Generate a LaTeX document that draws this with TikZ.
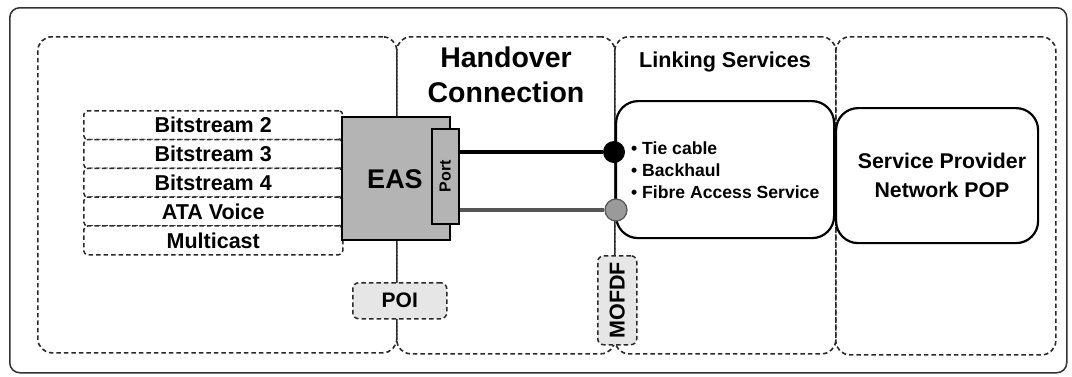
\documentclass[tikz,border=0pt]{standalone}
\usepackage{fontspec}
\setmainfont{Liberation Sans}
\definecolor{dline}{HTML}{2A2A2A}
\definecolor{easgray}{HTML}{B4B4B4}
\definecolor{lightfill}{HTML}{E6E6E6}
\definecolor{midgray}{HTML}{9A9A9A}
\definecolor{darkgray}{HTML}{555555}
\newcommand\fsz[2]{\fontsize{#1}{#2}\selectfont\bfseries}
\tikzset{
  boxnw/.style={rectangle, inner sep=0pt, anchor=north west},
  region/.style={boxnw, draw=dline, line width=1.6pt, dash pattern=on 4.5pt off 3pt, rounded corners=14pt},
  rowbox/.style={boxnw, draw=dline, fill=white, line width=1.5pt, dash pattern=on 4.5pt off 3pt, rounded corners=4pt,
    minimum width=259pt, minimum height=28.8pt, font=\fsz{21.5}{24}},
  solidbox/.style={boxnw, draw=black, line width=2.2pt, fill=white, rounded corners=22pt},
  tagbox/.style={boxnw, draw=dline, fill=lightfill, line width=1.5pt, dash pattern=on 4.5pt off 3pt, rounded corners=6pt},
  dot/.style={circle, inner sep=0pt, minimum size=22pt},
  txt/.style={inner sep=0pt, align=center},
}
\begin{document}
\begin{tikzpicture}[x=1pt,y=-1pt]
\useasboundingbox (0,0) rectangle (1072,376);
\fill[white] (0,0) rectangle (1072,376);
% outer frame
\node[boxnw, draw=black!80, line width=1.5pt, rounded corners=10pt, minimum width=1057pt, minimum height=365pt] (frame) at (9,7) {};
% regions
\node[region, minimum width=359pt, minimum height=316pt] (r1) at (37,36) {};
\node[region, minimum width=218pt, minimum height=317pt] (r2) at (396,36) {};
\node[region, minimum width=221pt, minimum height=317pt] (r3) at (614,36) {};
\node[region, minimum width=220pt, minimum height=318pt] (r4) at (835,36) {};
% titles
\node[txt, font=\fsz{28.5}{35}] (hand) at (506,75) {Handover\\Connection};
\node[txt, font=\fsz{21.6}{25}] (link) at (725,62) {Linking Services};
% service rows
\node[rowbox] (b2) at (83,110) {Bitstream 2};
\node[rowbox] (b3) at (83,138.8) {Bitstream 3};
\node[rowbox] (b4) at (83,167.6) {Bitstream 4};
\node[rowbox] (ata) at (83,196.4) {ATA Voice};
\node[rowbox] (mc) at (83,225.2) {Multicast};
% EAS and port
\node[boxnw, draw=black, fill=easgray, line width=1.6pt, minimum width=108pt, minimum height=123pt] (eas) at (341,116) {};
\node[txt, font=\fsz{27}{30}] (eastxt) at (395,179) {EAS};
\node[boxnw, draw=black, fill=easgray, line width=1.6pt, minimum width=27pt, minimum height=95pt] (port) at (431,128) {};
\node[txt, font=\fsz{16}{18}, rotate=90] (porttxt) at (port.center) {Port};
% linking services box and SP box
\node[solidbox, minimum width=218pt, minimum height=137pt] (lbox) at (615,100) {};
\node[txt, anchor=west, align=left, font=\fsz{17.6}{22}] (ltxt) at (631,170) {\textbullet\ Tie cable\\\textbullet\ Backhaul\\\textbullet\ Fibre Access Service};
\node[solidbox, minimum width=202pt, minimum height=135pt] (spbox) at (835,107) {};
\node[txt, font=\fsz{21.3}{29}] (sptxt) at (942,175) {Service Provider\\Network POP};
% connection points
\node[dot, fill=black] (c1) at (614,152) {};
\node[dot, fill=midgray, draw=darkgray, line width=1.2pt] (c2) at (616,210) {};
\draw[line width=4pt, black] (port.east |- c1) -- (c1.west);
\draw[line width=4pt, darkgray] (port.east |- c2) -- (c2.west);
% POI and MOFDF
\node[tagbox, minimum width=94pt, minimum height=36pt] (poi) at (352,282) {};
\node[txt, font=\fsz{21}{24}] (poitxt) at (poi.center) {POI};
\node[tagbox, minimum width=39pt, minimum height=89pt] (mofdf) at (597,255) {};
\node[txt, font=\fsz{21.5}{24}, rotate=90] (mofdftxt) at (mofdf.center) {MOFDF};
\end{tikzpicture}
\end{document}
